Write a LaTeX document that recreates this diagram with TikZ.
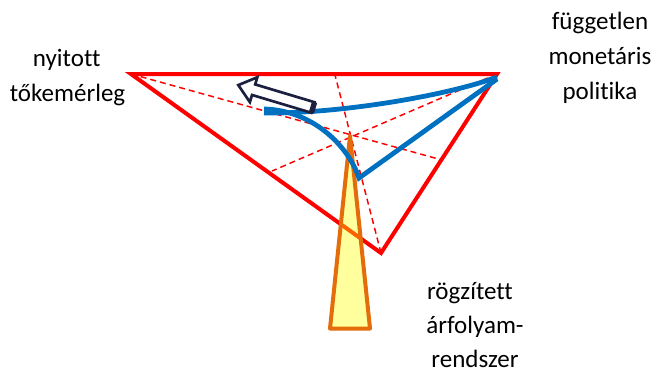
\documentclass[tikz,border=0pt]{standalone}
\usepackage{fontspec}
\setmainfont[Ligatures={NoCommon}]{Carlito}
\definecolor{tred}{RGB}{255,0,0}
\definecolor{tblue}{RGB}{0,112,192}
\definecolor{torange}{RGB}{228,108,10}
\definecolor{tyellow}{RGB}{255,255,0}
\definecolor{tnavy}{RGB}{28,32,64}
\begin{document}
\begin{tikzpicture}[x=0.75pt,y=-0.75pt,
  redline/.style={draw=tred, line width=3pt, line join=miter},
  reddash/.style={draw=tred, line width=1.1pt, dash pattern=on 4.5pt off 3pt},
  blueline/.style={draw=tblue, line width=3.6pt, line join=miter},
  orangeline/.style={draw=torange, line width=3pt, line join=round, fill=tyellow, fill opacity=0.38},
  arrowline/.style={draw=tnavy, line width=2pt, fill=white, line join=miter},
  lbl/.style={font=\fontsize{18.75}{26}\selectfont, anchor=base, inner sep=0pt, text=black}]
\useasboundingbox (0,0) rectangle (656,372);
% triangle vertices
\coordinate (A) at (131,74);
\coordinate (B) at (497,74);
\coordinate (C) at (381,253);
\coordinate (dA) at (442,160);
\coordinate (dB) at (272,171);
\coordinate (dC) at (335,75);
% dashed lines
\draw[reddash] (A) -- (dA);
\draw[reddash] (B) -- (dB);
\draw[reddash] (C) -- (dC);
% main triangle
\draw[redline] (A) -- (B) -- (C) -- cycle;
% orange triangle
\coordinate (O1) at (350,136);
\coordinate (O2) at (370,328.5);
\coordinate (O3) at (330,328.5);
\draw[orangeline] (O1) -- (O2) -- (O3) -- cycle;
% blue curves
\coordinate (bl0) at (264,109);
\coordinate (bl1) at (264,113);
\coordinate (cusp) at (359,178);
\coordinate (bE1) at (497,79);
\coordinate (bE2) at (497,77);
\draw[blueline] (bl0) .. controls (310,110) and (347,143) .. (cusp) -- (bE1);
\draw[blueline] (bl1) .. controls (340,114) and (450,95) .. (bE2);
% hollow arrow
\begin{scope}[shift={(313,107.5)}, rotate=163.3]
  \coordinate (t1) at (0,-5.5);
  \coordinate (t2) at (0,5.5);
  \draw[arrowline] (t1) -- (62,-5.5) -- (62,-13) -- (78,0) -- (62,13) -- (62,5.5) -- (t2) -- cycle;
  \draw[draw=tnavy, line width=4pt] (t1) -- (t2);
\end{scope}
% labels
\node[lbl] (l1a) at (66.7,66.7) {nyitott};
\node[lbl] (l1b) at (67.5,101.5) {tőkemérleg};
\node[lbl] (r1) at (600,29.3) {független};
\node[lbl] (r2) at (600,64.3) {monetáris};
\node[lbl] (r3) at (600,99.3) {politika};
\node[lbl] (b1) at (470,299.3) {rögzített};
\node[lbl] (b2) at (475,333.5) {árfolyam-};
\node[lbl] (b3) at (475,367.5) {rendszer};
\end{tikzpicture}
\end{document}
